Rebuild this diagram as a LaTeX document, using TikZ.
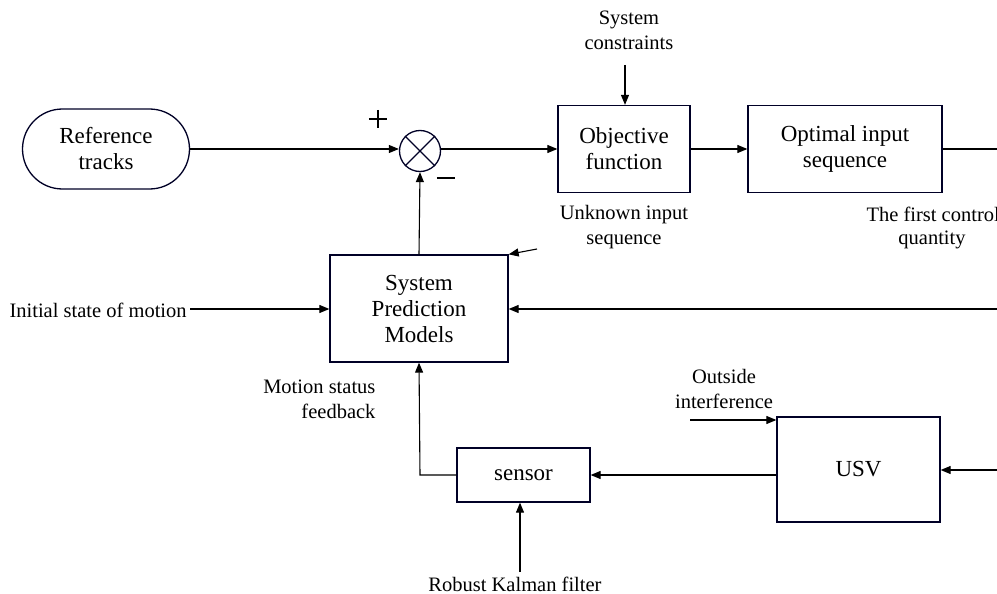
\documentclass[tikz,border=0pt]{standalone}
\usepackage{fontspec}
\setmainfont{Liberation Serif}
\usetikzlibrary{arrows.meta,shapes.misc}
\begin{document}
\begin{tikzpicture}[x=1pt,y=-1pt,
  line width=1.1pt,
  arr/.style={-{Triangle[length=10pt,width=8pt]}},
  blk/.style={draw=black!85!blue, line width=1.3pt, align=center, font=\rmfamily\fontsize{23}{26}\selectfont, inner sep=0pt},
  lbl/.style={align=center, font=\rmfamily\fontsize{20.5}{25}\selectfont, inner sep=0pt},
  sign/.style={draw=none, line width=1.3pt}
]
\useasboundingbox (0,0) rectangle (997,594);
% nodes
\node[blk, rounded rectangle, minimum width=167pt, minimum height=80pt] (ref) at (106,149) {Reference\\tracks};
\node[draw=black!85!blue, circle, minimum size=41pt, inner sep=0pt, line width=1.3pt] (sum) at (420,151) {};
\draw[line width=1.3pt, black!85!blue] (sum.north west) -- (sum.south east) (sum.north east) -- (sum.south west);
\node[blk, minimum width=132pt, minimum height=87pt] (obj) at (624,149) {Objective\\function};
\node[blk, minimum width=194pt, minimum height=87pt] (opt) at (845,149) {Optimal input\\sequence};
\node[blk, minimum width=178pt, minimum height=107pt] (spm) at (419,308.5) {System\\Prediction\\Models};
\node[blk, minimum width=133pt, minimum height=54pt] (sen) at (523.5,475) {sensor};
\node[blk, minimum width=163pt, minimum height=105pt] (usv) at (858.5,469.5) {USV};
% signs
\node[inner sep=0pt, minimum size=17pt] (plus) at (378,119) {};
\draw[line width=1.2pt] (plus.west) -- (plus.east) (plus.north) -- (plus.south);
\node[inner sep=0pt, minimum width=17pt, minimum height=2pt] (minus) at (446,178) {};
\draw[line width=1.2pt] (minus.west) -- (minus.east);
% labels
\node[lbl] (cons) at (629,30) {System\\constraints};
\node[lbl] (unk) at (624,227) {Unknown input\\sequence};
\node[lbl, anchor=west] (first) at (866,214) {The first control};
\node[lbl] (qty) at (932,240) {quantity};
\node[lbl, anchor=west] (init) at (9,310) {Initial state of motion};
\node[lbl, align=right, anchor=east] (msf) at (376,399) {Motion status\\feedback};
\node[lbl] (outi) at (724,389) {Outside\\interference};
\node[lbl] (rkf) at (515,584) {Robust Kalman filter};
% coordinates
\coordinate (consend) at (625,65);
\coordinate (edge1) at (997,149);
\coordinate (edge2) at (997,309);
\coordinate (edge3) at (997,470);
\coordinate (diag) at (537,249);
\coordinate (initend) at (190,309);
\coordinate (oi) at (690,420);
\coordinate (rk) at (520,572);
\coordinate (corner) at (420,475);
% connectors
\draw[arr] (ref.east) -- (ref.east -| sum.west);
\draw[arr] (sum.east |- ref.east) -- (ref.east -| obj.west);
\draw[arr] (consend) -- (consend |- obj.north);
\draw[arr] (obj.east) -- (opt.west);
\draw (opt.east) -- (edge1);
\draw[arr] (spm.north) -- (sum.south);
\draw[arr] (diag) -- (spm.north east);
\draw[arr] (initend) -- (initend -| spm.west);
\draw[arr] (edge2) -- (edge2 -| spm.east);
\draw[arr] (sen.west) -- (corner) -- (spm.south);
\draw[arr] (usv.west |- sen.east) -- (sen.east);
\draw[arr] (oi) -- (oi -| usv.west);
\draw[arr] (edge3) -- (edge3 -| usv.east);
\draw[arr] (rk) -- (rk |- sen.south);
\end{tikzpicture}
\end{document}
